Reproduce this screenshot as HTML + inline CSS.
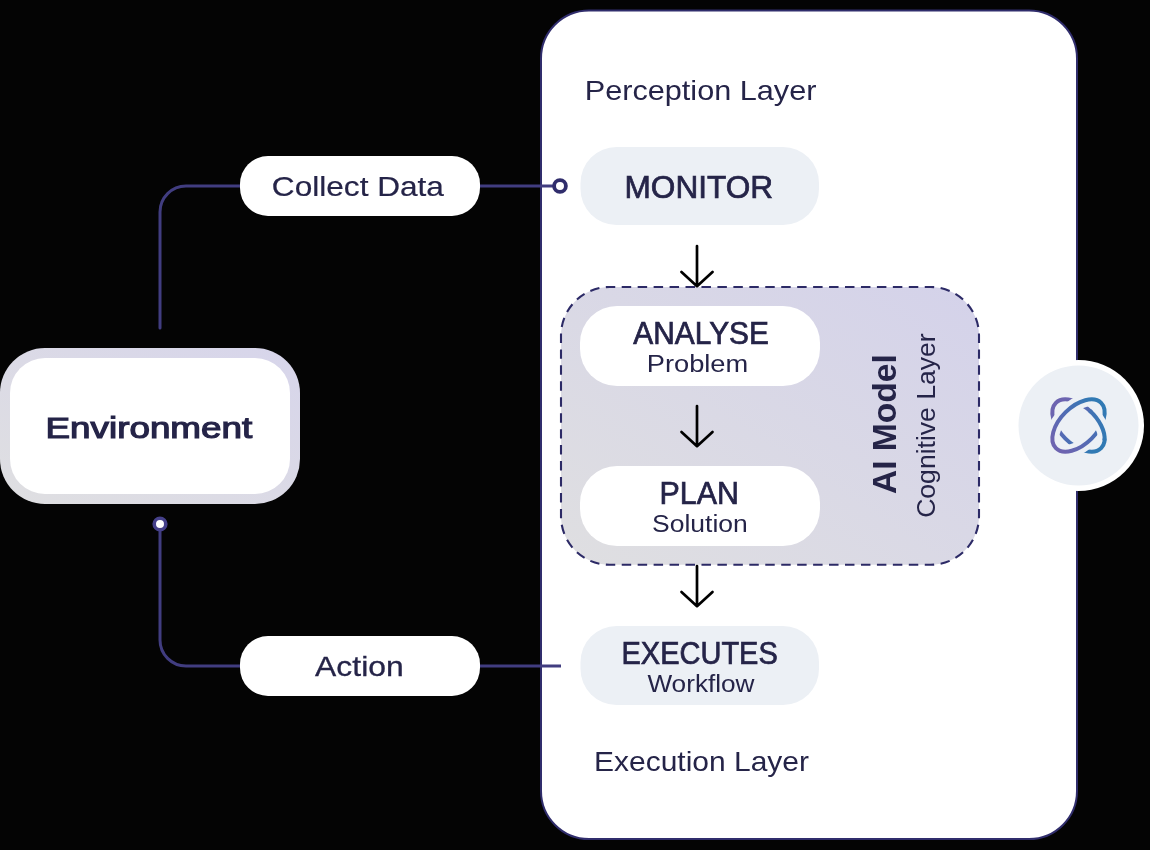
<!DOCTYPE html>
<html><head><meta charset="utf-8">
<style>
html,body{margin:0;padding:0;background:#040404;}
body{width:1150px;height:850px;overflow:hidden;position:relative;font-family:"Liberation Sans",sans-serif;}
svg{position:absolute;left:0;top:0;}
text{font-family:"Liberation Sans",sans-serif;fill:#252448;}
svg{will-change:transform;}
</style></head><body>
<svg width="1150" height="850" viewBox="0 0 1150 850">
<defs>
  <linearGradient id="envb" x1="0" y1="1" x2="1" y2="0">
    <stop offset="0" stop-color="#dfdfe1"/><stop offset="1" stop-color="#d7d5eb"/>
  </linearGradient>
  <linearGradient id="aib" x1="0" y1="1" x2="1" y2="0">
    <stop offset="0" stop-color="#dfdfe1"/><stop offset="1" stop-color="#d4d2ea"/>
  </linearGradient>
  <linearGradient id="icg" gradientUnits="userSpaceOnUse" x1="1050" y1="0" x2="1107" y2="0">
    <stop offset="0" stop-color="#6d64b0"/><stop offset="0.5" stop-color="#4f6cb4"/><stop offset="1" stop-color="#317ab4"/>
  </linearGradient>
</defs>

<!-- main white panel -->
<rect x="541" y="10.5" width="536" height="828.5" rx="48" ry="48" fill="#ffffff" stroke="#302d6c" stroke-width="2"/>

<!-- environment box -->
<rect x="0" y="348" width="300" height="156" rx="45" ry="45" fill="url(#envb)"/>
<rect x="10" y="358" width="280" height="136" rx="35" ry="35" fill="#ffffff"/>

<!-- connectors -->
<g fill="none" stroke="#413d80" stroke-width="3">
  <path d="M160 328 V212 A26 26 0 0 1 186 186 H241" stroke-linecap="round"/>
  <path d="M479 186 H553"/>
  <circle cx="560" cy="186" r="5.9" fill="#fff" stroke="#302d6c" stroke-width="3.8"/>
  <path d="M160 530 V640 A26 26 0 0 0 186 666 H241"/>
  <path d="M479 666 H561"/>
  <circle cx="160" cy="524" r="5.8" fill="#fff" stroke="#45408a" stroke-width="3.6"/>
</g>

<!-- pills left -->
<rect x="240" y="156" width="240" height="60" rx="28" fill="#ffffff"/>
<rect x="240" y="636" width="240" height="60" rx="28" fill="#ffffff"/>

<!-- dashed AI box -->
<path d="M770 287 H930.5 A48.5 48.5 0 0 1 979 335.5 V516.3 A48.5 48.5 0 0 1 930.5 564.8 H609.5 A48.5 48.5 0 0 1 561 516.3 V335.5 A48.5 48.5 0 0 1 609.5 287 Z" pathLength="1312" fill="url(#aib)" stroke="#2c2a66" stroke-width="2.1" stroke-dasharray="9.5 6.5" stroke-dashoffset="4.75"/>

<!-- inner pills -->
<rect x="580.5" y="147" width="238.5" height="78" rx="36" fill="#ecf0f5"/>
<rect x="580" y="306" width="240" height="80" rx="37" fill="#ffffff"/>
<rect x="580" y="466" width="240" height="80" rx="37" fill="#ffffff"/>
<rect x="580.5" y="626" width="238.5" height="79" rx="36" fill="#ecf0f5"/>

<!-- arrows -->
<g fill="none" stroke="#000" stroke-width="2.7" stroke-linecap="round" stroke-linejoin="round">
  <path d="M697 246 V286 M681.5 272 L697 286.2 L712.5 272"/>
  <path d="M697 406 V446 M681.5 432 L697 446.2 L712.5 432"/>
  <path d="M697 566 V606 M681.5 592 L697 606.2 L712.5 592"/>
</g>

<!-- AI icon -->
<circle cx="1078.5" cy="425.5" r="65.5" fill="#ffffff"/>
<circle cx="1078.5" cy="425.5" r="60" fill="#ecf0f5"/>
<g fill="none" stroke-linecap="butt">
  <ellipse cx="1078.5" cy="425.5" rx="32" ry="18.5" transform="rotate(45 1078.5 425.5)" stroke="url(#icg)" stroke-width="4"/>
  <ellipse cx="1078.5" cy="425.5" rx="32" ry="18.5" transform="rotate(-45 1078.5 425.5)" stroke="#ecf0f5" stroke-width="13.4"/>
  <ellipse cx="1078.5" cy="425.5" rx="32" ry="18.5" transform="rotate(-45 1078.5 425.5)" stroke="url(#icg)" stroke-width="4"/>
  <path d="M1091.58 412.42 A32 18.5 45 0 1 1104.64 438.56" stroke="#ecf0f5" stroke-width="13.4"/>
  <path d="M1089.56 410.50 A32 18.5 45 0 1 1104.54 440.48" stroke="url(#icg)" stroke-width="4"/>
</g>

<!-- texts -->
<text transform="translate(271.85 196.00) scale(1.1497 1)" font-size="27.5" stroke="#252448" stroke-width="0.2">Collect Data</text>
<text transform="translate(315.10 676.00) scale(1.1390 1)" font-size="28.0" stroke="#252448" stroke-width="0.3">Action</text>
<text transform="translate(45.54 437.50) scale(1.2275 1)" font-size="30.0" stroke="#252448" stroke-width="1.2">Environment</text>
<text transform="translate(584.73 100.20) scale(1.1356 1)" font-size="27.0">Perception Layer</text>
<text transform="translate(624.46 197.90) scale(1.0203 1)" font-size="31.0" stroke="#252448" stroke-width="0.7">MONITOR</text>
<text transform="translate(633.30 343.60) scale(0.9797 1)" font-size="30.5" stroke="#252448" stroke-width="0.7">ANALYSE</text>
<text transform="translate(646.73 371.90) scale(1.1854 1)" font-size="23.0">Problem</text>
<text transform="translate(659.61 503.60) scale(0.9961 1)" font-size="30.5" stroke="#252448" stroke-width="0.7">PLAN</text>
<text transform="translate(652.10 531.90) scale(1.1035 1)" font-size="24.0">Solution</text>
<text transform="translate(621.50 663.50) scale(0.9509 1)" font-size="30.5" stroke="#252448" stroke-width="0.7">EXECUTES</text>
<text transform="translate(647.40 691.70) scale(1.1383 1)" font-size="23.0">Workflow</text>
<text transform="translate(594.08 770.90) scale(1.1099 1)" font-size="27.0">Execution Layer</text>
<text transform="translate(896.00 494.02) rotate(-90) scale(1.0164 1)" font-size="33.0" font-weight="bold">AI Model</text>
<text transform="translate(934.50 517.82) rotate(-90) scale(1.0218 1)" font-size="26.0">Cognitive Layer</text>
</svg>
</body></html>
